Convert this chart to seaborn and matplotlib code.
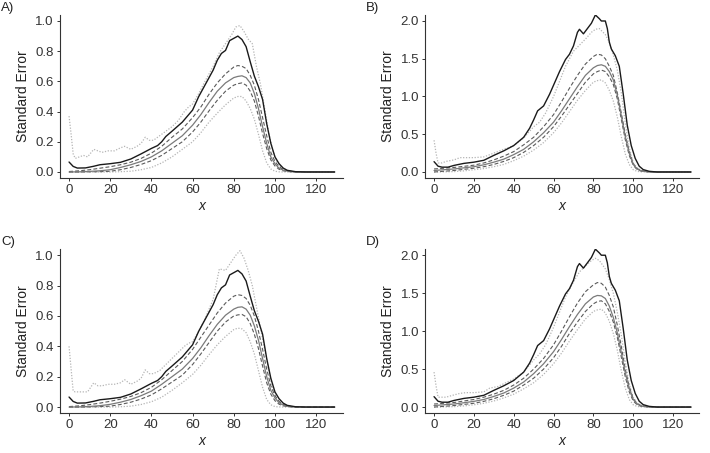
import numpy as np
import matplotlib
matplotlib.use("Agg")
import matplotlib.pyplot as plt
import seaborn as sns

# shared x grid for the smooth band curves
grid_x = [0, 5, 10, 15, 20, 25, 30, 35, 40, 45, 50, 55, 60, 64, 68, 72, 76, 80, 82,
          84, 86, 88, 90, 92, 94, 96, 98, 100, 102, 104, 107, 110, 129]

# observed standard error (black), panels A/C and B/D
obs_x1 = [0, 2, 4, 8, 12, 15, 20, 25, 30, 35, 40, 43, 45, 47, 50, 55, 60, 63, 65, 70,
          72, 74, 76, 78, 80, 82, 84, 86, 88, 90, 92, 94, 96, 98, 100, 102, 104, 106,
          110, 115, 129]
obs_y1 = [0.066, 0.037, 0.026, 0.027, 0.038, 0.048, 0.055, 0.064, 0.086, 0.12, 0.156,
          0.175, 0.20, 0.235, 0.27, 0.33, 0.41, 0.50, 0.55, 0.675, 0.74, 0.785, 0.805,
          0.87, 0.885, 0.90, 0.877, 0.83, 0.73, 0.635, 0.565, 0.48, 0.32, 0.19, 0.10,
          0.055, 0.026, 0.011, 0.002, 0, 0]
obs_x2 = [0, 2, 4, 7, 10, 15, 20, 25, 30, 35, 40, 45, 48, 50, 52, 55, 58, 60, 63, 66,
          68, 70, 72, 73, 75, 77, 79, 81, 83, 84, 86, 87, 88, 89, 91, 93, 95, 97, 99,
          101, 103, 105, 108, 112, 129]
obs_y2 = [0.137, 0.077, 0.064, 0.064, 0.087, 0.114, 0.13, 0.155, 0.22, 0.28, 0.35,
          0.46, 0.58, 0.69, 0.81, 0.875, 1.03, 1.15, 1.33, 1.49, 1.56, 1.67, 1.85,
          1.89, 1.83, 1.90, 1.97, 2.08, 2.03, 2.00, 2.00, 1.90, 1.72, 1.63, 1.54, 1.40,
          1.03, 0.62, 0.35, 0.18, 0.077, 0.032, 0.009, 0, 0]

# upper dotted bounds (jagged)
dot_x1 = [0, 1, 2, 3, 5, 7, 9, 12, 14, 16, 19, 22, 25, 27, 30, 33, 35, 37, 39, 41, 44,
          47, 50, 53, 56, 58, 60, 63, 66, 70, 73, 76, 79, 81, 83, 85, 87, 89, 91, 93,
          95, 97, 99, 101, 103, 106, 110, 129]
dot_up_a = [0.37, 0.25, 0.12, 0.09, 0.10, 0.11, 0.10, 0.15, 0.14, 0.13, 0.14, 0.14,
            0.16, 0.17, 0.15, 0.17, 0.19, 0.23, 0.21, 0.21, 0.24, 0.27, 0.30, 0.34,
            0.40, 0.43, 0.45, 0.52, 0.60, 0.70, 0.79, 0.85, 0.91, 0.96, 0.97, 0.93,
            0.88, 0.85, 0.70, 0.58, 0.42, 0.26, 0.14, 0.07, 0.03, 0.01, 0, 0]
dot_up_c = [0.40, 0.25, 0.105, 0.10, 0.10, 0.10, 0.10, 0.16, 0.14, 0.14, 0.15, 0.15,
            0.16, 0.18, 0.15, 0.17, 0.19, 0.245, 0.22, 0.22, 0.24, 0.28, 0.32, 0.36,
            0.40, 0.42, 0.43, 0.50, 0.58, 0.71, 0.91, 0.90, 0.96, 1.00, 1.03, 0.98,
            0.90, 0.80, 0.66, 0.52, 0.38, 0.24, 0.12, 0.05, 0.02, 0.005, 0, 0]
dot_x2 = [0, 1, 2, 4, 6, 10, 13, 16, 20, 25, 28, 32, 36, 40, 45, 50, 53, 56, 60, 63,
          66, 70, 73, 76, 79, 81, 83, 86, 88, 90, 92, 94, 96, 98, 100, 102, 105, 110,
          129]
dot_up_b = [0.42, 0.25, 0.12, 0.12, 0.14, 0.16, 0.19, 0.19, 0.19, 0.20, 0.23, 0.27,
            0.31, 0.35, 0.45, 0.60, 0.66, 0.78, 1.0, 1.2, 1.4, 1.6, 1.68, 1.76, 1.85,
            1.89, 1.90, 1.82, 1.72, 1.55, 1.35, 1.05, 0.65, 0.32, 0.12, 0.05, 0.01, 0, 0]
dot_up_d = [0.46, 0.28, 0.13, 0.13, 0.13, 0.16, 0.18, 0.19, 0.19, 0.20, 0.25, 0.27,
            0.32, 0.37, 0.46, 0.62, 0.70, 0.82, 1.05, 1.25, 1.45, 1.65, 1.78, 1.86,
            1.93, 1.96, 1.93, 1.82, 1.68, 1.50, 1.25, 0.95, 0.60, 0.30, 0.13, 0.05,
            0.01, 0, 0]

# band curves on grid_x: mean (grey solid), dashed upper/lower, dotted lower
mid_a = [0, 0.001, 0.004, 0.008, 0.015, 0.03, 0.048, 0.07, 0.10, 0.14, 0.19, 0.24,
         0.31, 0.38, 0.46, 0.535, 0.59, 0.625, 0.633, 0.637, 0.625, 0.59, 0.52, 0.42,
         0.30, 0.19, 0.10, 0.055, 0.025, 0.012, 0.004, 0.001, 0]
dash_up_a = [0.003, 0.008, 0.015, 0.025, 0.035, 0.048, 0.065, 0.09, 0.125, 0.17,
             0.23, 0.285, 0.36, 0.43, 0.515, 0.59, 0.65, 0.695, 0.705, 0.70, 0.685,
             0.64, 0.575, 0.48, 0.36, 0.24, 0.13, 0.07, 0.035, 0.016, 0.005, 0.001, 0]
dash_lo_a = [0, 0, 0.001, 0.002, 0.005, 0.015, 0.03, 0.05, 0.075, 0.11, 0.155, 0.20,
             0.265, 0.33, 0.405, 0.475, 0.535, 0.575, 0.585, 0.59, 0.575, 0.535, 0.47,
             0.37, 0.255, 0.155, 0.08, 0.04, 0.018, 0.008, 0.002, 0, 0]
dot_lo_a = [0, 0, 0, 0, 0, 0.002, 0.005, 0.015, 0.03, 0.06, 0.10, 0.15, 0.20, 0.26,
            0.33, 0.39, 0.445, 0.49, 0.50, 0.50, 0.47, 0.42, 0.35, 0.25, 0.14, 0.06,
            0.02, 0.005, 0.001, 0, 0, 0, 0]

mid_b = [0.02, 0.03, 0.04, 0.055, 0.07, 0.095, 0.13, 0.17, 0.23, 0.30, 0.40, 0.52,
         0.66, 0.81, 0.97, 1.13, 1.28, 1.38, 1.41, 1.42, 1.40, 1.33, 1.22, 1.02, 0.75,
         0.47, 0.25, 0.10, 0.04, 0.015, 0.004, 0.001, 0]
dash_up_b = [0.04, 0.05, 0.06, 0.075, 0.09, 0.12, 0.16, 0.21, 0.27, 0.36, 0.46, 0.60,
             0.76, 0.93, 1.11, 1.28, 1.43, 1.53, 1.56, 1.55, 1.50, 1.40, 1.28, 1.05,
             0.78, 0.50, 0.27, 0.11, 0.045, 0.018, 0.005, 0.001, 0]
dash_lo_b = [0, 0.01, 0.02, 0.035, 0.05, 0.07, 0.10, 0.14, 0.19, 0.26, 0.35, 0.46,
             0.60, 0.74, 0.89, 1.04, 1.19, 1.30, 1.33, 1.35, 1.33, 1.26, 1.16, 0.97,
             0.70, 0.43, 0.22, 0.09, 0.03, 0.012, 0.003, 0, 0]
dot_lo_b = [0, 0.002, 0.005, 0.015, 0.03, 0.045, 0.07, 0.10, 0.15, 0.21, 0.29, 0.39,
            0.52, 0.65, 0.80, 0.95, 1.08, 1.19, 1.21, 1.22, 1.18, 1.08, 0.94, 0.73,
            0.47, 0.24, 0.10, 0.03, 0.008, 0.002, 0, 0, 0]

mid_c = [0, 0.001, 0.004, 0.009, 0.018, 0.032, 0.05, 0.075, 0.105, 0.15, 0.20, 0.25,
         0.32, 0.39, 0.47, 0.545, 0.605, 0.645, 0.657, 0.66, 0.645, 0.605, 0.535,
         0.44, 0.32, 0.20, 0.11, 0.06, 0.028, 0.013, 0.004, 0.001, 0]
dash_up_c = [0.003, 0.008, 0.016, 0.026, 0.038, 0.052, 0.07, 0.095, 0.13, 0.18, 0.24,
             0.30, 0.38, 0.46, 0.54, 0.62, 0.685, 0.73, 0.74, 0.735, 0.715, 0.67,
             0.60, 0.50, 0.38, 0.25, 0.14, 0.075, 0.037, 0.017, 0.005, 0.001, 0]
dash_lo_c = [0, 0, 0.001, 0.003, 0.006, 0.017, 0.032, 0.053, 0.08, 0.12, 0.165,
             0.21, 0.28, 0.35, 0.425, 0.50, 0.56, 0.60, 0.607, 0.61, 0.595, 0.55,
             0.48, 0.385, 0.27, 0.16, 0.085, 0.042, 0.019, 0.008, 0.002, 0, 0]
dot_lo_c = [0, 0, 0, 0, 0, 0.002, 0.006, 0.017, 0.035, 0.065, 0.11, 0.16, 0.215,
            0.275, 0.345, 0.41, 0.465, 0.51, 0.52, 0.515, 0.49, 0.43, 0.35, 0.24,
            0.13, 0.05, 0.015, 0.003, 0.001, 0, 0, 0, 0]

mid_d = [0.02, 0.03, 0.04, 0.057, 0.075, 0.10, 0.14, 0.185, 0.25, 0.33, 0.44, 0.57,
         0.73, 0.89, 1.06, 1.22, 1.36, 1.45, 1.47, 1.465, 1.43, 1.33, 1.18, 0.98,
         0.72, 0.45, 0.24, 0.10, 0.04, 0.015, 0.004, 0.001, 0]
dash_up_d = [0.04, 0.05, 0.06, 0.08, 0.10, 0.13, 0.17, 0.22, 0.29, 0.38, 0.50, 0.64,
             0.82, 1.00, 1.19, 1.37, 1.52, 1.61, 1.64, 1.63, 1.58, 1.47, 1.32, 1.08,
             0.80, 0.50, 0.27, 0.11, 0.045, 0.018, 0.005, 0.001, 0]
dash_lo_d = [0, 0.01, 0.02, 0.035, 0.05, 0.075, 0.11, 0.155, 0.21, 0.29, 0.38, 0.50,
             0.65, 0.80, 0.97, 1.12, 1.26, 1.36, 1.39, 1.40, 1.36, 1.26, 1.12, 0.92,
             0.66, 0.40, 0.20, 0.08, 0.03, 0.01, 0.003, 0, 0]
dot_lo_d = [0, 0.002, 0.005, 0.015, 0.03, 0.05, 0.08, 0.12, 0.17, 0.24, 0.32, 0.43,
            0.57, 0.71, 0.87, 1.02, 1.16, 1.26, 1.28, 1.29, 1.24, 1.13, 0.97, 0.75,
            0.48, 0.25, 0.10, 0.03, 0.008, 0.002, 0, 0, 0]

panel_labels = ["A)", "B)", "C)", "D)"]


def draw_panel(ax, obs_x, obs_y, dot_x, dot_up, mid, dash_up, dash_lo, dot_lo, ymax, yticks):
    dotted = dict(color="#b5b5b5", linewidth=0.9, linestyle=(0, (1, 1.3)))
    dashed = dict(color="#5a5a5a", linewidth=0.8, linestyle=(0, (3.5, 2)))
    sns.lineplot(x=dot_x, y=dot_up, ax=ax, **dotted)
    sns.lineplot(x=grid_x, y=dot_lo, ax=ax, **dotted)
    sns.lineplot(x=grid_x, y=dash_up, ax=ax, **dashed)
    sns.lineplot(x=grid_x, y=dash_lo, ax=ax, **dashed)
    sns.lineplot(x=grid_x, y=mid, ax=ax, color="#7a7a7a", linewidth=0.9)
    sns.lineplot(x=obs_x, y=obs_y, ax=ax, color="#1a1a1a", linewidth=1.0)

    ax.set_xlim(-4.4, 133.2)
    ax.set_ylim(-0.04 * ymax, 1.04 * ymax)
    ax.set_xticks([0, 20, 40, 60, 80, 100, 120])
    ax.set_yticks(yticks)
    ax.set_yticklabels([f"{t:.1f}" for t in yticks])
    ax.set_xlabel("x", fontstyle="italic", fontsize=10, color="#222222", labelpad=2)
    ax.set_ylabel("Standard Error", fontsize=10, color="#222222", labelpad=4)
    sns.despine(ax=ax)
    for side in ["left", "bottom"]:
        ax.spines[side].set_linewidth(0.8)
        ax.spines[side].set_color("#333333")
    ax.tick_params(axis="both", length=2.5, width=0.7, color="#333333",
                   labelsize=9.5, labelcolor="#333333", pad=2)


sns.set_style("ticks")
plt.rcParams["font.family"] = ["Liberation Sans", "DejaVu Sans"]

fig = plt.figure(figsize=(7.1, 4.53), dpi=100)
positions = [
    [0.0845, 0.607, 0.399, 0.360],
    [0.599, 0.607, 0.386, 0.360],
    [0.0845, 0.088, 0.399, 0.362],
    [0.599, 0.088, 0.386, 0.362],
]
panels = [
    (obs_x1, obs_y1, dot_x1, dot_up_a, mid_a, dash_up_a, dash_lo_a, dot_lo_a, 1.0,
     [0.0, 0.2, 0.4, 0.6, 0.8, 1.0]),
    (obs_x2, obs_y2, dot_x2, dot_up_b, mid_b, dash_up_b, dash_lo_b, dot_lo_b, 2.0,
     [0.0, 0.5, 1.0, 1.5, 2.0]),
    (obs_x1, obs_y1, dot_x1, dot_up_c, mid_c, dash_up_c, dash_lo_c, dot_lo_c, 1.0,
     [0.0, 0.2, 0.4, 0.6, 0.8, 1.0]),
    (obs_x2, obs_y2, dot_x2, dot_up_d, mid_d, dash_up_d, dash_lo_d, dot_lo_d, 2.0,
     [0.0, 0.5, 1.0, 1.5, 2.0]),
]
label_pos = [(0.002, 0.995), (0.515, 0.995), (0.002, 0.478), (0.515, 0.478)]

for pos, args, lab, lp in zip(positions, panels, panel_labels, label_pos):
    ax = fig.add_axes(pos)
    draw_panel(ax, *args)
    fig.text(lp[0], lp[1], lab, fontsize=9.5, color="#222222", ha="left", va="top")

fig.savefig("out.png", dpi=100)
